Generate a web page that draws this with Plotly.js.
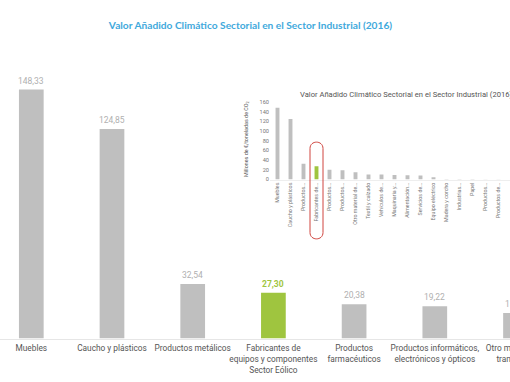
<!DOCTYPE html>
<html>
<head>
<meta charset="utf-8">
<script src="https://cdn.plot.ly/plotly-3.0.1.min.js"></script>
<style>html,body{margin:0;padding:0;background:#fff;overflow:hidden;width:510px;height:382px;}#chart{width:570px;height:382px;}</style>
</head>
<body>
<div id="chart"></div>
<script>
// ---- Data ----
const mainCategories = [
  'Muebles',
  'Caucho y plásticos',
  'Productos metálicos',
  'Fabricantes de<br>equipos y componentes<br>Sector Eólico',
  'Productos<br>farmacéuticos',
  'Productos informáticos,<br>electrónicos y ópticos',
  'Otro material de<br>transporte'
];
const mainValues = [148.33, 124.85, 32.54, 27.30, 20.38, 19.22, 15.2];
const highlightIndex = 3;

const insetLabels = [
  'Muebles', 'Caucho y plásticos', 'Productos...', 'Fabricantes de...',
  'Productos...', 'Productos...', 'Otro material de...', 'Textil y calzado',
  'Vehículos de...', 'Maquinaria y...', 'Alimentación...', 'Servicios de...',
  'Equipo eléctrico', 'Madera y corcho', 'Industrias...', 'Papel',
  'Productos...', 'Productos de...'
];
const insetValues = [148.33, 124.85, 32.54, 27.30, 20.38, 19.22, 15.2, 10.5,
  10.2, 9.2, 9.0, 8.2, 4.6, 1.2, 1.0, 0.8, 0.6, 0.5];

const titleText = 'Valor Añadido Climático Sectorial en el Sector Industrial (2016)';
const insetYTitle = 'Millones de €/toneladas de CO<sub>2</sub>';

// ---- Styles ----
const GRAY = '#bfbfbf';
const GREEN = '#9fc53f';
const FONT = 'Roboto, sans-serif';
const W = 570, H = 382;          // layout is wider than the 510px window; the right edge is cropped
const px = v => v / W;
const py = v => 1 - v / H;
const STEP = 80.7, X0 = 31.3;    // main category spacing / first center (px)
const ISTEP = 13, IX0 = 277.5;   // inset category spacing / first center (px)

const mainColors = mainValues.map((v, i) => i === highlightIndex ? GREEN : GRAY);
const insetColors = insetValues.map((v, i) => i === highlightIndex ? GREEN : GRAY);
const insetX = insetLabels.map((l, i) => i);

const traces = [
  {
    type: 'bar', x: mainCategories, y: mainValues,
    marker: {color: mainColors}, width: 0.306,
    xaxis: 'x', yaxis: 'y', hoverinfo: 'skip'
  },
  {
    type: 'bar', x: insetX, y: insetValues,
    marker: {color: insetColors}, width: 0.3,
    xaxis: 'x2', yaxis: 'y2', hoverinfo: 'skip'
  }
];

const annotations = mainValues.map((v, i) => ({
  x: mainCategories[i], y: v, xref: 'x', yref: 'y',
  text: v.toFixed(2).replace('.', ','),
  showarrow: false, yanchor: 'bottom', yshift: 2,
  font: {family: FONT, size: 8.5, color: i === highlightIndex ? GREEN : '#b0b0b0',
         weight: i === highlightIndex ? 'bold' : 'normal'}
}));

annotations.push({
  x: px(298), y: py(95), xref: 'paper', yref: 'paper',
  text: titleText, showarrow: false, xanchor: 'left', yanchor: 'middle',
  font: {family: FONT, size: 7.6, color: '#555555'}
});
annotations.push({
  x: px(246), y: py(139), xref: 'paper', yref: 'paper',
  text: insetYTitle, showarrow: false, textangle: -90,
  xanchor: 'center', yanchor: 'middle',
  font: {family: FONT, size: 5.4, color: '#555555'}
});

const layout = {
  width: W, height: H,
  margin: {l: 0, r: 0, t: 0, b: 0},
  paper_bgcolor: '#ffffff', plot_bgcolor: 'rgba(0,0,0,0)',
  showlegend: false,
  title: {
    text: titleText, x: px(250.5), xanchor: 'center', y: py(25), yanchor: 'middle',
    font: {family: 'Lato, sans-serif', size: 10.2, color: '#3fa9dc', weight: 'bold'}
  },
  xaxis: {
    type: 'category', domain: [0, 1], range: [-X0 / STEP, (W - X0) / STEP],
    showgrid: false, zeroline: false, showline: true, linecolor: '#e6e6e6', linewidth: 1,
    ticks: '', tickangle: 0, ticklabelstandoff: 2,
    tickfont: {family: FONT, size: 8.3, color: '#555555'}, anchor: 'y',
    fixedrange: true
  },
  yaxis: {
    domain: [py(338.5), 0.9], range: [0, (338.5 - 0.1 * H) / 1.678],
    showgrid: false, zeroline: false, showline: false, showticklabels: false, anchor: 'x',
    fixedrange: true
  },
  xaxis2: {
    domain: [px(270), px(510)], range: [(270 - IX0) / ISTEP, (510 - IX0) / ISTEP], anchor: 'y2',
    tickmode: 'array', tickvals: insetX, ticktext: insetLabels, tickangle: -90,
    showgrid: false, zeroline: false, showline: true, linecolor: '#eeeeee',
    ticks: '', tickfont: {family: FONT, size: 5.3, color: '#777777'}
  },
  yaxis2: {
    domain: [py(179.5), py(102)], range: [0, 160], dtick: 20, anchor: 'x2',
    showgrid: false, zeroline: false, showline: false, ticks: '',
    tickfont: {family: FONT, size: 5.6, color: '#777777'}
  },
  annotations: annotations,
  shapes: [{
    type: 'path', xref: 'x2', yref: 'paper',
    path: 'M 2.5,' + py(148.5) + ' C 2.5,' + py(140) + ' 3.5,' + py(140) + ' 3.5,' + py(148.5) +
          ' L 3.5,' + py(232.5) + ' C 3.5,' + py(241) + ' 2.5,' + py(241) + ' 2.5,' + py(232.5) + ' Z',
    line: {color: '#d0453f', width: 1}, fillcolor: 'rgba(0,0,0,0)'
  }]
};

Plotly.newPlot('chart', traces, layout, {displayModeBar: false, staticPlot: true});
</script>
</body>
</html>
